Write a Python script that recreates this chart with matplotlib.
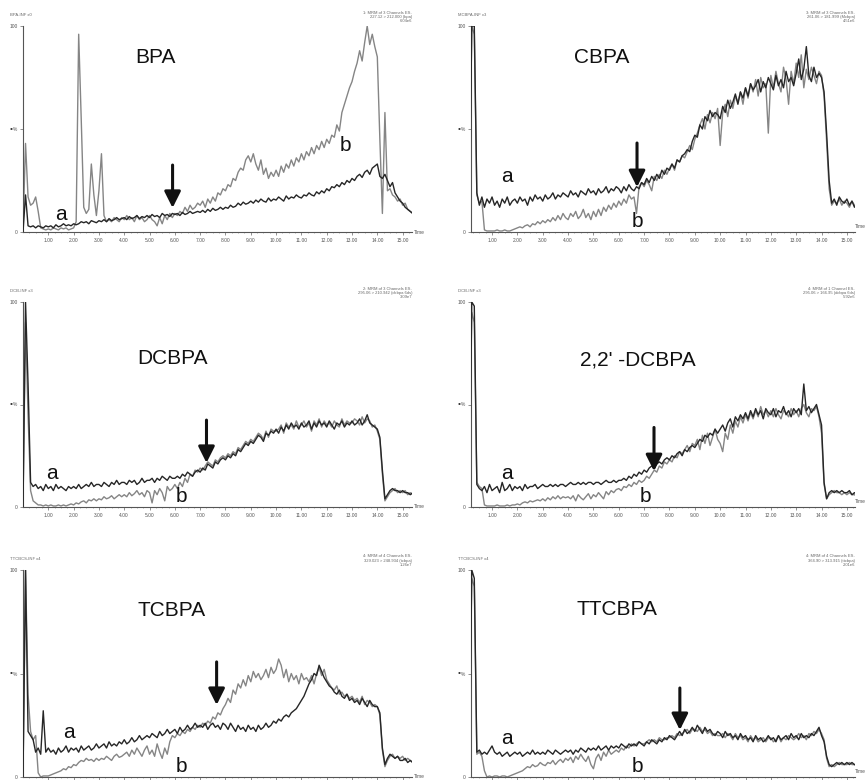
import numpy as np
import matplotlib.pyplot as plt

plt.rcParams['font.family'] = ['Liberation Sans', 'DejaVu Sans']

# retention time of each scan, minutes
scan_min = [
    0.0, 0.1, 0.2, 0.3, 0.4, 0.5, 0.6, 0.7, 0.8, 0.9,
    1.0, 1.1, 1.2, 1.3, 1.4, 1.5, 1.6, 1.7, 1.8, 1.9,
    2.0, 2.1, 2.2, 2.3, 2.4, 2.5, 2.6, 2.7, 2.8, 2.9,
    3.0, 3.1, 3.2, 3.3, 3.4, 3.5, 3.6, 3.7, 3.8, 3.9,
    4.0, 4.1, 4.2, 4.3, 4.4, 4.5, 4.6, 4.7, 4.8, 4.9,
    5.0, 5.1, 5.2, 5.3, 5.4, 5.5, 5.6, 5.7, 5.8, 5.9,
    6.0, 6.1, 6.2, 6.3, 6.4, 6.5, 6.6, 6.7, 6.8, 6.9,
    7.0, 7.1, 7.2, 7.3, 7.4, 7.5, 7.6, 7.7, 7.8, 7.9,
    8.0, 8.1, 8.2, 8.3, 8.4, 8.5, 8.6, 8.7, 8.8, 8.9,
    9.0, 9.1, 9.2, 9.3, 9.4, 9.5, 9.6, 9.7, 9.8, 9.9,
    10.0, 10.1, 10.2, 10.3, 10.4, 10.5, 10.6, 10.7, 10.8, 10.9,
    11.0, 11.1, 11.2, 11.3, 11.4, 11.5, 11.6, 11.7, 11.8, 11.9,
    12.0, 12.1, 12.2, 12.3, 12.4, 12.5, 12.6, 12.7, 12.8, 12.9,
    13.0, 13.1, 13.2, 13.3, 13.4, 13.5, 13.6, 13.7, 13.8, 13.9,
    14.0, 14.1, 14.2, 14.3, 14.4, 14.5, 14.6, 14.7, 14.8, 14.9,
    15.0, 15.1, 15.2, 15.3, 15.4]

# relative intensity (%) for sample a and sample b
bpa_a = [
    0, 18, 3, 2.5, 3, 2, 3, 2.5, 2, 3,
    2.5, 3, 2, 3.5, 2.5, 3, 4, 3, 3.5, 3,
    4, 3.5, 4, 5, 4.5, 5, 4, 5.5, 5, 4.5,
    5.5, 5, 6, 5, 6.5, 5.5, 6, 7, 6, 6.5,
    7, 6, 7.5, 6.5, 7, 8, 6.5, 7.5, 7, 8,
    7, 8.5, 7.5, 8, 7, 9, 8, 8.5, 7.5, 9,
    8.5, 9, 8, 9.5, 8.5, 9, 10, 9, 9.5, 10,
    9.5, 10.5, 9.5, 11, 10, 11.5, 10.5, 11, 12, 11,
    12, 11.5, 13, 12, 12.5, 14, 13, 14.5, 13.5, 14,
    15, 14, 15.5, 14.5, 16, 15, 14.5, 16.5, 15, 16,
    15.5, 17, 16, 15, 17.5, 16, 17, 16.5, 18, 17,
    16.5, 18, 17.5, 19, 18, 17.5, 19.5, 18.5, 20, 19,
    21, 20, 22, 21.5, 23, 22, 24, 23, 25, 24,
    26, 25, 27, 28, 26.5, 29, 30, 28, 31, 32,
    33, 27, 26, 28, 25, 22, 24, 19, 17, 15,
    14, 12, 11, 10, 9]
bpa_b = [
    2, 43, 17, 13, 14, 17, 10, 2, 1.5, 1,
    1.5, 1, 2, 1.5, 1, 2, 1.5, 2, 1, 1.5,
    2, 5, 96, 55, 12, 9, 11, 33, 18, 8,
    20, 38, 8, 5, 6, 5, 7, 6, 5, 7,
    6, 8, 6, 7, 5, 8, 6, 7, 5, 6,
    8, 6, 5, 3, 7, 4, 8, 6, 9, 7,
    9, 8, 10, 9, 12, 10, 13, 11, 12, 14,
    13, 15, 12, 16, 14, 17, 15, 19, 18, 21,
    20, 23, 22, 26, 25, 29, 31, 30, 35, 37,
    34, 38, 33, 30, 35, 28, 31, 26, 29, 27,
    30, 27, 32, 29, 33, 31, 35, 32, 36, 34,
    38, 35, 39, 37, 41, 38, 42, 40, 44, 41,
    45, 43, 47, 46, 52, 49, 58, 62, 66, 70,
    73, 78, 82, 88, 83, 92, 100, 91, 96, 90,
    85, 45, 9, 58, 20, 21, 18, 17, 15, 16,
    13, 14, 11, 10, 9]

cbpa_a = [
    0, 0, 100, 100, 19, 13, 17, 12, 16, 14,
    17, 13, 15, 12, 16, 14, 17, 13, 15, 16,
    14, 17, 15, 16, 13, 17, 15, 18, 16, 17,
    15, 18, 16, 17, 19, 16, 18, 17, 19, 18,
    17, 20, 18, 19, 17, 20, 19, 18, 21, 19,
    20, 18, 21, 19, 20, 22, 19, 21, 20, 22,
    21, 19, 22, 20, 23, 21, 20, 22, 21, 24,
    23, 26, 24, 27, 25, 28, 26, 30, 28, 31,
    30, 33, 31, 35, 34, 37, 38, 40, 39, 44,
    47, 46, 52, 50, 56, 54, 59, 56, 58, 57,
    55, 61, 58, 64, 60, 63, 67, 62, 68, 65,
    70, 66, 72, 69, 71, 74, 68, 73, 70, 75,
    72, 69, 76, 71, 74, 70, 78, 73, 75, 71,
    77, 84, 74, 79, 90, 76, 73, 80, 75, 77,
    75, 68, 48, 25, 14, 16, 13, 17, 15, 14,
    16, 13, 15, 12, 14]
cbpa_b = [
    0, 0, 100, 96, 18, 14, 15, 1, 0.5, 0.5,
    0.5, 0.5, 1, 0.5, 0.5, 1, 0.5, 0.5, 1, 1.5,
    2, 2.5, 2, 3, 3.5, 2.5, 4, 3.5, 5, 4,
    5.5, 4.5, 6, 5, 7, 5.5, 8, 6, 9, 7,
    6, 9, 7.5, 10, 6.5, 8, 11, 7, 9, 6,
    10, 7.5, 11, 8, 12, 10, 13, 11, 14, 12,
    15, 13, 16, 14, 18, 16, 17, 9, 22, 24,
    22, 25, 23, 20, 27, 25, 28, 26, 30, 28,
    31, 33, 30, 35, 34, 37, 36, 39, 42, 40,
    45, 48, 52, 55, 50, 57, 53, 58, 55, 60,
    42, 58, 62, 56, 64, 60, 66, 63, 68, 62,
    70, 65, 72, 68, 74, 66, 75, 70, 72, 48,
    76, 70, 78, 72, 68, 80, 74, 62, 78, 72,
    82, 75, 86, 70, 79, 74, 80, 76, 72, 78,
    76, 66, 44, 21, 13, 15, 14, 16, 13, 15,
    14, 12, 15, 13, 12]

dcbpa_a = [
    0, 100, 60, 12, 10, 11, 9, 10, 8, 11,
    9, 10, 8, 11, 9, 10, 9, 8, 10, 9,
    10, 9, 11, 9, 10, 11, 10, 12, 10, 11,
    11, 10, 12, 11, 10, 12, 11, 13, 11, 12,
    12, 11, 13, 12, 13, 11, 12, 14, 12, 13,
    13, 14, 12, 14, 13, 15, 14, 13, 15, 14,
    14, 15, 14, 16, 15, 17, 16, 15, 17, 18,
    17, 19, 18, 21, 20, 19, 22, 21, 23, 24,
    23, 25, 24, 26, 25, 28, 27, 29, 31, 30,
    32, 31, 33, 35, 34, 32, 36, 35, 37, 36,
    38, 36, 39, 37, 40, 38, 41, 39, 40, 38,
    41, 39, 40, 42, 38, 41, 39, 42, 40, 41,
    39, 42, 40, 38, 41, 40, 42, 39, 41, 40,
    42, 40, 41, 43, 40, 42, 45, 41, 40, 39,
    38, 34, 18, 4, 6, 8, 9, 8, 8, 7,
    8, 7, 7, 6, 7]
dcbpa_b = [
    0, 90, 45, 8, 3, 2, 1, 1, 0.5, 1,
    0.5, 1, 0.5, 0.5, 1, 0.5, 1, 0.5, 1, 1.5,
    1, 2, 1.5, 2.5, 3, 2, 3.5, 3, 4, 3,
    4, 3.5, 5, 4, 4.5, 5.5, 4, 5, 6, 5,
    6, 5, 7, 5.5, 6.5, 8, 6, 7, 5, 8,
    7, 2, 8, 6, 9, 7, 3, 10, 8, 9,
    11, 9, 12, 10, 14, 12, 16, 15, 18, 17,
    19, 18, 20, 22, 21, 20, 23, 22, 24, 25,
    24, 26, 25, 27, 26, 29, 28, 30, 32, 31,
    33, 32, 34, 36, 35, 33, 37, 34, 38, 37,
    37, 38, 40, 36, 41, 39, 40, 38, 42, 39,
    40, 42, 39, 41, 37, 42, 40, 43, 39, 42,
    40, 41, 39, 42, 40, 39, 43, 40, 42, 41,
    41, 43, 42, 40, 44, 41, 43, 42, 39, 40,
    37, 33, 16, 3, 5, 7, 8, 9, 7, 8,
    7, 8, 6, 7, 6]

dcbpa22_a = [
    0, 0, 100, 98, 11, 9, 8, 10, 7, 11,
    8, 9, 10, 7, 12, 8, 9, 11, 8, 10,
    9, 10, 8, 11, 9, 10, 10, 11, 9, 10,
    11, 10, 10, 11, 10, 11, 10, 11, 11, 10,
    11, 12, 11, 11, 12, 11, 12, 11, 12, 12,
    11, 12, 12, 11, 12, 13, 12, 12, 13, 12,
    13, 13, 14, 13, 15, 14, 16, 15, 17, 16,
    18, 17, 19, 20, 19, 21, 22, 21, 23, 24,
    23, 25, 24, 26, 27, 25, 28, 27, 29, 30,
    29, 31, 33, 32, 35, 34, 36, 35, 38, 36,
    38, 40, 37, 41, 43, 39, 44, 42, 45, 43,
    46, 43, 47, 44, 48, 45, 47, 43, 48, 46,
    45, 48, 44, 47, 46, 49, 45, 47, 44, 48,
    46, 48, 45, 60, 47, 49, 46, 48, 50, 45,
    40, 12, 4, 7, 8, 7, 8, 7, 8, 7,
    7, 8, 6, 7, 6]
dcbpa22_b = [
    0, 0, 95, 90, 12, 10, 9, 1, 0.5, 0.5,
    0.5, 0.5, 1, 0.5, 0.5, 0.5, 1, 0.5, 1, 1,
    1.5, 1, 2, 2.5, 2, 3, 2.5, 3, 3.5, 3,
    4, 3, 4.5, 3.5, 5, 4, 5.5, 4, 5, 4.5,
    5, 4, 5.5, 3, 6, 4.5, 3.5, 5, 6.5, 4,
    6, 5, 7, 5.5, 4, 7.5, 6, 8, 7, 8.5,
    9, 8, 10, 9.5, 11, 10, 12, 11, 13, 12,
    13, 15, 14, 16, 18, 17, 20, 19, 22, 21,
    23, 22, 25, 24, 27, 26, 28, 30, 27, 31,
    30, 33, 28, 35, 31, 36, 30, 34, 38, 33,
    31, 27, 36, 33, 40, 36, 42, 39, 44, 41,
    45, 42, 46, 43, 47, 44, 49, 45, 47, 44,
    47, 44, 48, 45, 43, 47, 46, 44, 48, 45,
    47, 44, 48, 50, 46, 44, 48, 47, 49, 44,
    36, 11, 4, 6, 7, 8, 7, 7, 6, 7,
    6, 7, 6, 6, 5]

tcbpa_a = [
    0, 100, 22, 20, 18, 12, 14, 11, 32, 12,
    14, 12, 13, 11, 14, 12, 13, 15, 12, 14,
    13, 14, 12, 15, 13, 14, 15, 13, 14, 16,
    14, 15, 16, 14, 17, 15, 16, 15, 17, 16,
    18, 16, 17, 19, 17, 18, 20, 18, 19, 20,
    19, 21, 20, 19, 22, 20, 21, 23, 21, 22,
    23, 21, 24, 22, 23, 25, 23, 24, 26, 24,
    25, 24, 26, 23, 25, 26, 24, 25, 23, 26,
    25, 23, 26, 24, 22, 25, 23, 24, 22, 25,
    23, 24, 22, 25, 23, 24, 26, 24, 25, 27,
    26, 28, 27, 29, 30, 29, 31, 32, 33, 35,
    37, 39, 42, 45, 47, 50, 49, 54, 51, 48,
    46, 44, 43, 41, 40, 42, 39, 38, 40, 37,
    38, 36, 37, 35, 38, 36, 34, 37, 35, 34,
    34, 31, 14, 6, 9, 11, 10, 9, 10, 8,
    8, 9, 7, 8, 7]
tcbpa_b = [
    0, 100, 40, 22, 18, 20, 2, 0, 0.5, 0.5,
    0.5, 1, 1.5, 2, 2.5, 3, 4, 3.5, 5, 4.5,
    6, 5.5, 7, 8, 7.5, 9, 8, 8.5, 7.5, 9,
    8, 9, 8.5, 10, 9, 8, 10, 11, 9.5, 10,
    11, 12, 10, 13, 11, 14, 12, 10, 13, 15,
    11, 13, 10, 16, 12, 9, 14, 11, 17, 20,
    19, 21, 20, 22, 21, 23, 22, 24, 23, 25,
    24, 26, 25, 27, 26, 29, 28, 31, 30, 33,
    35, 38, 36, 42, 40, 45, 43, 47, 44, 49,
    46, 51, 48, 50, 47, 49, 52, 48, 53, 50,
    52, 57, 54, 48, 52, 46, 50, 47, 49, 45,
    50, 47, 48, 46, 49, 45, 50, 53, 49, 52,
    47, 45, 43, 42, 44, 40, 41, 39, 40, 38,
    39, 37, 38, 36, 39, 35, 37, 36, 34, 35,
    34, 30, 13, 5, 8, 10, 11, 9, 10, 9,
    10, 8, 9, 8, 7]

ttcbpa_a = [
    0, 0, 100, 96, 12, 13, 11, 12, 11, 13,
    15, 12, 11, 12, 10, 11, 12, 10, 11, 12,
    11, 12, 10, 11, 12, 11, 13, 11, 12, 11,
    12, 11, 13, 12, 11, 13, 12, 11, 12, 13,
    12, 13, 11, 13, 12, 14, 13, 12, 14, 13,
    14, 13, 15, 13, 14, 15, 13, 15, 14, 15,
    14, 16, 15, 14, 16, 15, 16, 15, 17, 16,
    15, 17, 16, 18, 17, 16, 18, 17, 19, 18,
    20, 19, 18, 20, 22, 20, 23, 21, 22, 24,
    22, 25, 23, 21, 24, 22, 23, 21, 20, 22,
    21, 19, 22, 20, 21, 19, 20, 18, 21, 19,
    20, 18, 19, 17, 20, 18, 19, 17, 18, 20,
    18, 19, 17, 20, 18, 19, 20, 18, 21, 19,
    20, 18, 21, 19, 20, 19, 21, 20, 22, 24,
    20, 17, 10, 6, 5, 6, 7, 6, 7, 6,
    7, 6, 7, 6, 6]
ttcbpa_b = [
    0, 0, 96, 92, 11, 12, 10, 3, 0, 0.5,
    0, 0.5, 0.5, 0, 0.5, 0.5, 0, 0.5, 1, 1.5,
    2, 2.5, 3, 4, 5, 4.5, 6, 5, 5.5, 7,
    6, 5.5, 7, 6.5, 8, 6, 7.5, 8.5, 7, 9,
    8, 9.5, 7, 10, 8.5, 11, 9, 7.5, 10, 6,
    4, 9, 11, 8, 12, 10, 13, 11, 12, 13,
    12, 14, 13, 15, 14, 16, 15, 16, 17, 16,
    16, 17, 18, 17, 18, 17, 19, 18, 18, 19,
    19, 20, 19, 21, 20, 21, 22, 23, 21, 23,
    23, 22, 24, 22, 23, 21, 22, 20, 21, 20,
    20, 21, 19, 21, 20, 18, 21, 19, 20, 18,
    19, 17, 20, 18, 19, 17, 18, 19, 17, 19,
    19, 17, 18, 20, 17, 19, 18, 20, 19, 18,
    19, 21, 19, 20, 18, 21, 20, 22, 21, 23,
    21, 18, 9, 5, 6, 5, 6, 7, 6, 6,
    6, 7, 6, 6, 5]

compounds = ['BPA', 'CBPA', 'DCBPA', "2,2' -DCBPA", 'TCBPA', 'TTCBPA']
series_a = [bpa_a, cbpa_a, dcbpa_a, dcbpa22_a, tcbpa_a, ttcbpa_a]
series_b = [bpa_b, cbpa_b, dcbpa_b, dcbpa22_b, tcbpa_b, ttcbpa_b]

# arrow: time, tip %, tail %
arrow_at = [(5.91, 11.7, 32.5), (6.72, 21.8, 43.2), (7.25, 21.5, 42.4),
            (7.39, 17.5, 38.8), (7.65, 34.8, 55.6), (8.41, 22.7, 43.0)]
title_at = [(5.24, 84.5), (5.34, 84.5), (5.91, 72.2),
            (6.76, 71.8), (5.87, 80.2), (5.93, 80.7)]
label_a_at = [(1.48, 8.7), (1.59, 26.7), (1.13, 16.1),
              (1.59, 16.5), (1.80, 21.7), (1.59, 18.4)]
label_b_at = [(12.75, 42.2), (6.72, 5.3), (6.27, 4.9),
              (7.07, 5.3), (6.26, 5.3), (6.72, 5.3)]

trace_tags = ['BPA-INF x0', 'MCBPA-INF x3', 'DCB-INF x3',
              'DCB-INF x3', 'TTCBCS-INF x4', 'TTCBCS-INF x4']
channel_tags = [
    '1: MRM of 3 Channels ES-\n227.12 > 212.000 (bpa)\n6.04e6',
    '3: MRM of 3 Channels ES-\n261.06 > 181.999 (Mcbpa)\n4.51e6',
    '2: MRM of 3 Channels ES-\n295.06 > 210.942 (dcbpa 6ds)\n3.09e7',
    '4: MRM of 1 Channel ES-\n295.06 > 166.95 (dcbpa 6ds)\n5.92e6',
    '4: MRM of 4 Channels ES-\n329.023 > 248.934 (tcbpa)\n1.26e7',
    '4: MRM of 4 Channels ES-\n364.90 > 313.915 (ttcbpa)\n2.01e6']

time_ticks = [1, 2, 3, 4, 5, 6, 7, 8, 9, 10, 11, 12, 13, 14, 15]
time_labels = ['%d.00' % t for t in time_ticks]

W, H = 866, 780
fig = plt.figure(figsize=(W / 100, H / 100), dpi=100)

# pixel frames of the six panels (left, right, x range) and (top, bottom)
cols = [(23, 412, (0.0, 15.37)), (471, 855, (0.17, 15.32))]
rows = [(26, 232), (302, 507), (570, 777)]

for i, name in enumerate(compounds):
    x0, x1, xlim = cols[i % 2]
    y0, y1 = rows[i // 2]
    ax = fig.add_axes([x0 / W, 1 - y1 / H, (x1 - x0) / W, (y1 - y0) / H])
    ax.set_xlim(*xlim)
    ax.set_ylim(0, 100)
    ax.patch.set_alpha(0)

    t = np.array(scan_min)
    ax.plot(t, series_b[i], color='#858585', lw=1.0, zorder=2)
    ax.plot(t, series_a[i], color='#262626', lw=1.0, zorder=3)

    for side in ['top', 'right']:
        ax.spines[side].set_visible(False)
    for side in ['left', 'bottom']:
        ax.spines[side].set_color('#555555')
        ax.spines[side].set_linewidth(0.8)

    ax.set_xticks(time_ticks)
    ax.set_xticklabels(time_labels)
    ax.set_xticks(np.arange(0.25, 15.5, 0.25), minor=True)
    ax.set_yticks([0, 50, 100])
    ax.set_yticklabels(['0', '%', '100'])
    ax.tick_params(axis='both', which='major', length=2, width=0.5,
                   color='#666666', labelsize=3.5, labelcolor='#555555', pad=2)
    ax.tick_params(axis='x', which='minor', length=1, width=0.4, color='#777777')
    if i >= 4:
        # bottom row runs off the page, no time labels under it
        ax.tick_params(axis='x', labelbottom=False)
    if i % 2 == 0:
        ax.text(1.005, 0.0, 'Time', transform=ax.transAxes, fontsize=3.5,
                color='#555555', va='center', ha='left')
    else:
        ax.text(1.0, 0.015, 'Time', transform=ax.transAxes, fontsize=3.5,
                color='#555555', va='bottom', ha='left')
    ax.text(-0.03, 0.5, '\u2022', transform=ax.transAxes, fontsize=6,
            color='#333333', va='center', ha='center')

    # instrument headers
    ax.text(-0.033, 1.055, trace_tags[i], transform=ax.transAxes,
            fontsize=3, color='#666666', va='center', ha='left')
    ax.text(1.0, 1.075, channel_tags[i], transform=ax.transAxes,
            fontsize=3, color='#666666', va='top', ha='right',
            linespacing=1.1)

    tx, ty = title_at[i]
    ax.text(tx, ty, name, fontsize=15, ha='center', va='center', color='#111111')
    ax.text(*label_a_at[i], 'a', fontsize=15, ha='center', va='center', color='#111111')
    ax.text(*label_b_at[i], 'b', fontsize=15, ha='center', va='center', color='#111111')

    at, tip, tail = arrow_at[i]
    ax.annotate('', xy=(at, tip), xytext=(at, tail),
                arrowprops=dict(arrowstyle='-|>,head_length=0.7,head_width=0.35',
                                color='#111111', lw=2.2, mutation_scale=14,
                                shrinkA=0, shrinkB=0), zorder=5)

fig.savefig('out.png', dpi=100, facecolor='white')
